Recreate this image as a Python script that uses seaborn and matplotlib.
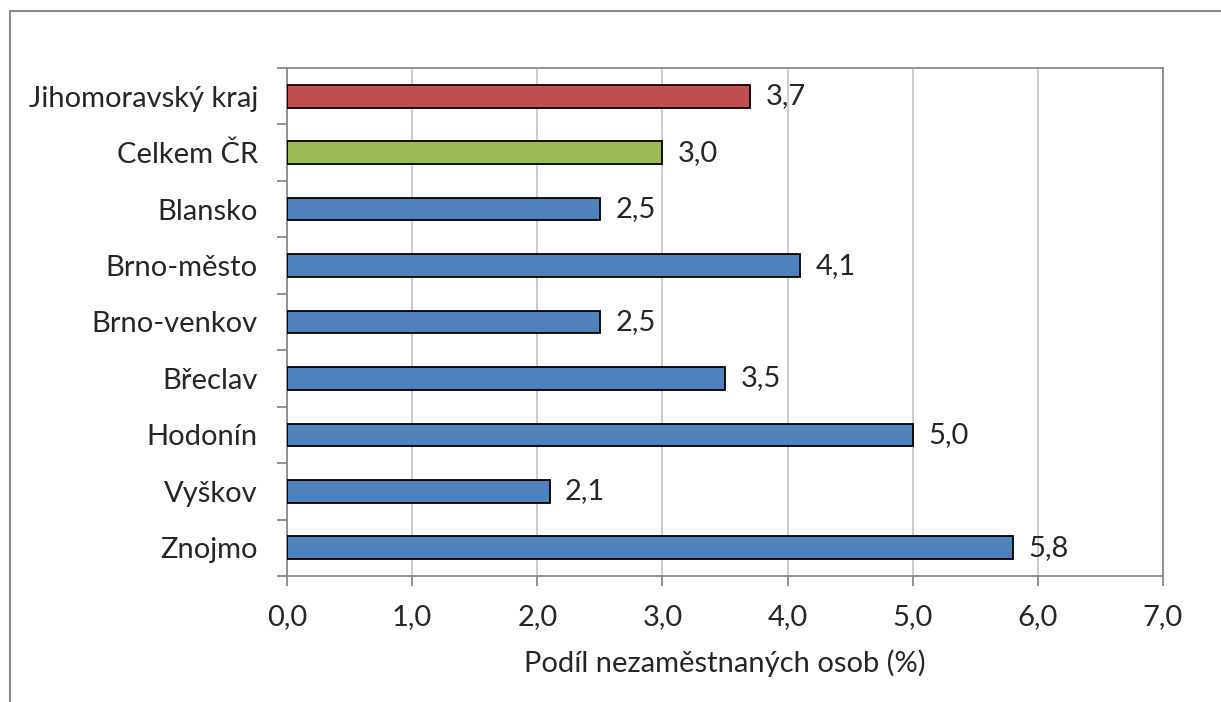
import matplotlib
matplotlib.use("Agg")
import matplotlib.pyplot as plt
import seaborn as sns
from matplotlib.lines import Line2D
from matplotlib.ticker import FixedLocator, FuncFormatter

# data
okresy = ["Jihomoravský kraj", "Celkem ČR", "Blansko", "Brno-město", "Brno-venkov",
          "Břeclav", "Hodonín", "Vyškov", "Znojmo"]
podil = [3.7, 3.0, 2.5, 4.1, 2.5, 3.5, 5.0, 2.1, 5.8]
barvy = ["#C0504D", "#9BBB59"] + ["#4F81BD"] * 7

sns.set_style("white")
plt.rcParams["font.family"] = ["Lato", "DejaVu Sans"]
fs = 21

fig = plt.figure(figsize=(12.21, 7.02), dpi=100)
ax = fig.add_axes([287 / 1221, 1 - 576 / 702, 876 / 1221, 508 / 702])

sns.barplot(x=podil, y=okresy, hue=okresy, palette=barvy, legend=False,
            width=0.4, edgecolor="black", linewidth=1.3, saturation=1, ax=ax, zorder=3)

ax.set_xlim(0, 7)
ax.set_ylim(8.5, -0.5)
ax.set_xticks(range(8))
ax.xaxis.set_major_formatter(FuncFormatter(lambda v, p: f"{v:.1f}".replace(".", ",")))
ax.grid(axis="x", color="#C8C8C8", linewidth=1.3, zorder=0)

# ticks on category boundaries
ax.yaxis.set_minor_locator(FixedLocator([i - 0.5 for i in range(10)]))
ax.tick_params(axis="y", which="major", length=0, pad=21, labelsize=fs)
ax.tick_params(axis="y", which="minor", left=True, length=7, width=1.3, color="#898989")
ax.tick_params(axis="x", bottom=True, length=7, width=1.3, color="#898989", pad=13, labelsize=fs)

for s in ax.spines.values():
    s.set_color("#898989")
    s.set_linewidth(1.3)

for c in ax.containers:
    ax.bar_label(c, labels=[f"{v:.1f}".replace(".", ",") for v in c.datavalues],
                 padding=11, fontsize=fs)

ax.set_xlabel("Podíl nezaměstnaných osob (%)", fontsize=fs, labelpad=14)
ax.set_ylabel("")

# chart area frame
fig.add_artist(Line2D([9.5 / 1221, 9.5 / 1221], [0, 1 - 10.5 / 702], color="#898989", lw=1.5))
fig.add_artist(Line2D([9.5 / 1221, 1], [1 - 10.5 / 702, 1 - 10.5 / 702], color="#898989", lw=1.5))

fig.savefig("out.png", dpi=100)
